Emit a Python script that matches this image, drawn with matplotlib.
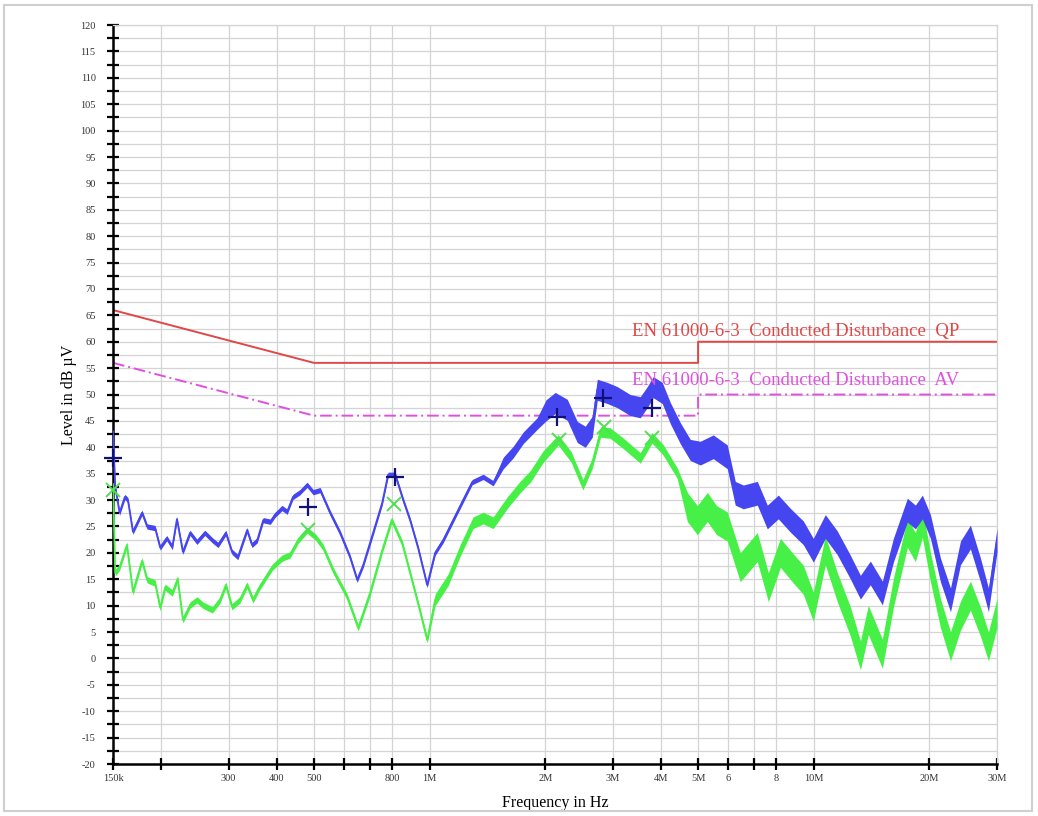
import numpy as np
import matplotlib
matplotlib.use("Agg")
import matplotlib.pyplot as plt
from matplotlib.patches import Rectangle
from matplotlib.ticker import FixedLocator, FixedFormatter, NullFormatter

plt.rcParams["axes.unicode_minus"] = False

# peak detector trace (MHz, dBuV)
peak_freq = [0.150, 0.152, 0.156, 0.161, 0.164, 0.169, 0.1785, 0.184, 0.193, 0.199,
             0.207, 0.214, 0.220, 0.228, 0.238, 0.248, 0.260, 0.272, 0.2815, 0.295,
             0.306, 0.317, 0.335, 0.345, 0.356, 0.369, 0.385, 0.396, 0.413, 0.426,
             0.441, 0.460, 0.480, 0.498, 0.519, 0.551, 0.585, 0.621, 0.648, 0.672,
             0.713, 0.753, 0.780, 0.814, 0.854, 0.890, 0.934, 0.986, 1.034, 1.085,
             1.152, 1.223, 1.291, 1.379, 1.464, 1.555, 1.651, 1.753, 1.906, 2.01,
             2.124, 2.283, 2.424, 2.543, 2.652, 2.733, 2.901, 3.081, 3.330, 3.536,
             3.687, 3.822, 4.034, 4.233, 4.494, 4.773, 5.067, 5.477, 5.957, 6.249,
             6.557, 7.131, 7.572, 8.088, 8.691, 9.396, 9.977, 10.72, 11.52, 12.46,
             13.23, 14.04, 15.09, 16.12, 17.53, 18.39, 19.18, 20.13, 21.37, 22.70,
             24.10, 25.58, 27.16, 28.50, 30.0]
peak_level = [43.0, 32.5, 27.6, 30.6, 30.0, 24.0, 27.6, 25.0, 24.7, 21.0,
              22.8, 21.1, 26.4, 20.2, 23.8, 22.1, 23.8, 22.4, 21.5, 23.8,
              20.2, 19.2, 24.3, 21.5, 22.4, 26.2, 25.9, 27.2, 28.5, 27.8,
              30.6, 31.5, 32.9, 31.5, 31.9, 27.6, 23.8, 19.2, 14.9, 17.7,
              23.8, 29.5, 34.8, 34.8, 30.0, 26.2, 20.9, 13.9, 20.0, 22.4,
              26.2, 30.0, 33.4, 34.4, 33.2, 37.0, 39.1, 41.8, 44.5, 47.0,
              48.4, 47.1, 42.9, 42.0, 43.9, 50.9, 50.3, 49.5, 48.0, 47.6,
              49.5, 51.4, 50.3, 46.5, 42.7, 39.5, 38.9, 40.1, 38.2, 31.3,
              30.6, 31.3, 26.8, 28.7, 26.2, 23.8, 20.5, 25.0, 21.9, 17.3,
              13.5, 16.2, 12.4, 20.5, 28.1, 26.8, 28.7, 25.0, 16.8, 11.1,
              20.0, 23.0, 16.8, 11.1, 22.4]

# average detector trace (MHz, dBuV)
avg_freq = [0.150, 0.152, 0.156, 0.163, 0.169, 0.1785, 0.184, 0.193, 0.199, 0.205,
            0.214, 0.221, 0.228, 0.238, 0.248, 0.257, 0.272, 0.285, 0.295, 0.306,
            0.321, 0.335, 0.347, 0.361, 0.378, 0.390, 0.413, 0.433, 0.455, 0.480,
            0.505, 0.528, 0.561, 0.610, 0.652, 0.700, 0.753, 0.797, 0.849, 0.890,
            0.943, 0.986, 1.034, 1.118, 1.202, 1.298, 1.379, 1.464, 1.593, 1.722,
            1.83, 1.974, 2.163, 2.336, 2.507, 2.652, 2.787, 2.953, 3.188, 3.536,
            3.795, 4.058, 4.414, 4.689, 4.978, 5.285, 5.588, 5.957, 6.44, 7.131,
            7.62, 8.19, 8.79, 9.396, 9.977, 10.72, 11.52, 12.46, 13.23, 13.87,
            15.09, 16.12, 17.53, 18.39, 19.18, 20.13, 21.37, 22.70, 24.10, 25.58,
            27.16, 28.50, 30.0]
avg_level = [33.0, 16.2, 17.3, 21.5, 12.6, 18.5, 14.9, 14.3, 9.6, 13.5,
             12.4, 15.1, 7.3, 10.1, 11.1, 10.1, 9.2, 11.1, 13.9, 9.8,
             11.1, 13.9, 11.1, 13.5, 15.8, 17.3, 19.0, 19.6, 22.4, 24.3,
             23.0, 21.1, 16.7, 11.7, 5.8, 12.4, 20.5, 26.2, 21.8, 16.2,
             9.2, 3.5, 11.1, 14.9, 20.5, 25.7, 26.6, 25.7, 29.5, 32.5,
             34.5, 38.2, 41.4, 38.2, 32.9, 37.0, 42.9, 42.7, 40.8, 38.0,
             41.8, 39.5, 35.1, 28.7, 26.2, 28.7, 26.2, 25.0, 17.3, 21.1,
             13.5, 20.0, 17.3, 14.9, 9.8, 20.5, 13.5, 7.0, 0.6, 7.3,
             0.9, 12.4, 23.8, 21.1, 25.7, 17.3, 8.6, 2.3, 8.1, 11.9,
             7.0, 2.3, 8.6]

# final measurement points
peak_mark_freq = [0.150, 0.483, 0.814, 2.15, 2.83, 3.79]
peak_mark_level = [38.0, 28.6, 34.3, 45.8, 49.4, 47.5]
avg_mark_freq = [0.150, 0.483, 0.810, 2.17, 2.84, 3.80]
avg_mark_level = [32.0, 24.4, 29.3, 41.3, 43.8, 41.8]

# EN 61000-6-3 conducted limits
limit_freq = [0.15, 0.5, 5.0, 5.0, 30.0]
qp_limit = [66, 56, 56, 60, 60]
av_limit = [56, 46, 46, 50, 50]

# (upper edge MHz, width of the noise band in dB)
peak_band = [(1.5, 1.0), (2.0, 2.2), (5.0, 4.0), (31.0, 4.5)]
avg_band = [(1.0, 1.2), (2.0, 2.2), (4.5, 2.0), (31.0, 5.5)]

x_ticks = [0.15, 0.2, 0.3, 0.4, 0.5, 0.6, 0.7, 0.8, 1, 2, 3, 4, 5, 6, 7, 8, 10, 20, 30]
x_labels = ["150k", "", "300", "400", "500", "", "", "800", "1M", "2M", "3M", "4M",
            "5M", "6", "", "8", "10M", "20M", "30M"]


def band_width(freq, bands):
    freq = np.asarray(freq)
    width = np.zeros_like(freq)
    lo = 0.0
    for hi, w in bands:
        width[(freq >= lo) & (freq < hi)] = w
        lo = hi
    return width


def draw_trace(ax, freq, level, bands, color):
    freq = np.asarray(freq)
    level = np.asarray(level)
    half = band_width(freq, bands) / 2
    ax.fill_between(freq, level - half, level + half, color=color, lw=0, zorder=3)
    ax.plot(freq, level, color=color, lw=1.3, zorder=3)


fig = plt.figure(figsize=(10.38, 8.16), dpi=100)
fig.patches.append(Rectangle((0.004, 0.006), 0.99, 0.988, transform=fig.transFigure,
                             fill=False, edgecolor="#cfcfcf", lw=1.5))
ax = fig.add_axes([0.1089, 0.0637, 0.8516, 0.9056])

ax.set_xscale("log")
ax.set_xlim(0.15, 30)
ax.set_ylim(-20, 120)

ax.xaxis.set_major_locator(FixedLocator(x_ticks))
ax.xaxis.set_major_formatter(FixedFormatter(x_labels))
ax.xaxis.set_minor_formatter(NullFormatter())
ax.xaxis.set_minor_locator(FixedLocator([]))
ax.yaxis.set_major_locator(FixedLocator(np.arange(-20, 121, 5)))
ax.yaxis.set_minor_locator(FixedLocator(np.arange(-17.5, 120, 5)))

ax.grid(True, which="both", color="#d4d4d4", lw=0.9, zorder=0)
ax.tick_params(which="both", direction="inout", length=9, width=1.6, color="black",
               labelsize=7.5)
ax.tick_params(axis="x", pad=3)
ax.tick_params(axis="y", pad=8)
for lab in ax.get_xticklabels() + ax.get_yticklabels():
    lab.set_fontfamily("Liberation Serif")
    lab.set_color("#333333")
for side in ("left", "bottom"):
    ax.spines[side].set_linewidth(1.8)
for side in ("top", "right"):
    ax.spines[side].set_color("#d4d4d4")
    ax.spines[side].set_linewidth(0.9)

# limit lines
ax.plot(limit_freq, qp_limit, color="#e04848", lw=1.4, zorder=2)
ax.plot(limit_freq, av_limit, color="#e050e0", lw=1.4, ls=(0, (6, 2, 1, 2)), zorder=2)

# measured spectra
draw_trace(ax, avg_freq, avg_level, avg_band, "#46f046")
draw_trace(ax, peak_freq, peak_level, peak_band, "#4646f0")

ax.plot(peak_mark_freq, peak_mark_level, ls="none", marker="+", ms=13, mew=1.6,
        color="#10107a", zorder=5, clip_on=False)
ax.plot(avg_mark_freq, avg_mark_level, ls="none", marker="x", ms=10, mew=1.4,
        color="#50e050", zorder=4, clip_on=False)

ax.text(3.37, 62.0, "EN 61000-6-3  Conducted Disturbance  QP", color="#e04848",
        fontsize=13.5, family="Liberation Serif", va="center", ha="left", zorder=6)
ax.text(3.37, 52.6, "EN 61000-6-3  Conducted Disturbance  AV", color="#e050e0",
        fontsize=13.5, family="Liberation Serif", va="center", ha="left", zorder=6)

ax.set_xlabel("Frequency in Hz", family="Liberation Serif", fontsize=11.5, labelpad=8)
ax.set_ylabel("Level in dB µV", family="Liberation Serif", fontsize=11.5, labelpad=2)

fig.savefig("out.png", dpi=100)
